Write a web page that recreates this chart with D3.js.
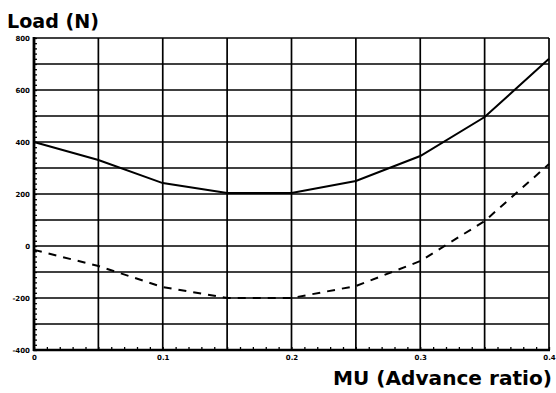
<!DOCTYPE html>
<html>
<head>
<meta charset="utf-8">
<script src="https://cdn.jsdelivr.net/npm/d3@7/dist/d3.min.js"></script>
<style>
  html, body { margin: 0; padding: 0; background: #fff; }
  svg { display: block; }
  .tick-label { font-family: "DejaVu Sans", sans-serif; font-weight: bold; font-size: 7px; fill: #000; }
  .title { font-family: "DejaVu Sans", sans-serif; font-weight: bold; fill: #000; }
</style>
</head>
<body>
<svg id="chart" width="556" height="393"></svg>
<script>
// Advance ratio samples and the two load curves (N)
const mu = [0, 0.05, 0.1, 0.15, 0.2, 0.25, 0.3, 0.35, 0.4];
const loadSolid = [400, 331, 242, 204, 204, 250, 346, 496, 720];
const loadDashed = [-15, -77, -158, -200, -200, -154, -58, 96, 315];

// Axis labelling
const xLabelValues = [0, 0.1, 0.2, 0.3, 0.4];
const xLabels = ["0", "0.1", "0.2", "0.3", "0.4"];
const yLabelValues = [-400, -200, 0, 200, 400, 600, 800];
const yLabels = ["-400", "-200", "0", "200", "400", "600", "800"];
const xGridValues = [0.05, 0.1, 0.15, 0.2, 0.25, 0.3, 0.35, 0.4];
const yGridValues = [-300, -200, -100, 0, 100, 200, 300, 400, 500, 600, 700, 800];

const svg = d3.select("#chart");
const plotL = 34, plotR = 549, plotT = 38, plotB = 350;

const x = d3.scaleLinear().domain([0, 0.4]).range([plotL, plotR]);
const y = d3.scaleLinear().domain([-400, 800]).range([plotB, plotT]);

// Grid
const grid = svg.append("g").attr("stroke", "#000").attr("stroke-width", 1.7);
grid.selectAll("line.v").data(xGridValues).join("line").attr("class", "v")
  .attr("x1", d => x(d)).attr("x2", d => x(d))
  .attr("y1", plotT).attr("y2", plotB);
grid.selectAll("line.h").data(yGridValues).join("line").attr("class", "h")
  .attr("x1", plotL).attr("x2", plotR)
  .attr("y1", d => y(d)).attr("y2", d => y(d));

// Minor ticks pointing into the plot
const xMinor = d3.axisBottom(x).tickValues(d3.range(0, 41).map(i => i / 100)).tickSize(-3).tickFormat("");
const gxm = svg.append("g").attr("transform", `translate(0,${plotB})`).call(xMinor);
gxm.select(".domain").remove();
gxm.selectAll("line").attr("stroke", "#000").attr("stroke-width", 1.3);

const yMinor = d3.axisLeft(y).tickValues(d3.range(-400, 801, 20)).tickSize(-3).tickFormat("");
const gym = svg.append("g").attr("transform", `translate(${plotL},0)`).call(yMinor);
gym.select(".domain").remove();
gym.selectAll("line").attr("stroke", "#000").attr("stroke-width", 1.3);

// Main axes (heavier lines)
svg.append("line").attr("x1", plotL).attr("x2", plotL).attr("y1", plotT - 1).attr("y2", plotB + 1)
  .attr("stroke", "#000").attr("stroke-width", 2.8);
svg.append("line").attr("x1", plotL - 1).attr("x2", plotR + 1).attr("y1", plotB).attr("y2", plotB)
  .attr("stroke", "#000").attr("stroke-width", 2.4);

// Tick labels
const xLab = d3.axisBottom(x).tickValues(xLabelValues).tickSize(0).tickPadding(5)
  .tickFormat((d, i) => xLabels[i]);
const gxl = svg.append("g").attr("transform", `translate(0,${plotB})`).call(xLab);
gxl.select(".domain").remove();
gxl.attr("font-family", null).attr("font-size", null);
gxl.selectAll("text").attr("class", "tick-label");

const yLab = d3.axisLeft(y).tickValues(yLabelValues).tickSize(0).tickPadding(4)
  .tickFormat((d, i) => yLabels[i]);
const gyl = svg.append("g").attr("transform", `translate(${plotL},0)`).call(yLab);
gyl.select(".domain").remove();
gyl.attr("font-family", null).attr("font-size", null);
gyl.selectAll("text").attr("class", "tick-label");

// Curves
const line = d3.line().x((d, i) => x(mu[i])).y(d => y(d)).curve(d3.curveLinear);
svg.append("path").datum(loadSolid).attr("d", line)
  .attr("fill", "none").attr("stroke", "#000").attr("stroke-width", 2);
svg.append("path").datum(loadDashed).attr("d", line)
  .attr("fill", "none").attr("stroke", "#000").attr("stroke-width", 2)
  .attr("stroke-dasharray", "8,7");

// Titles
svg.append("text").attr("class", "title").attr("x", 7).attr("y", 28)
  .attr("font-size", 20).attr("textLength", 92).attr("lengthAdjust", "spacingAndGlyphs")
  .text("Load (N)");
svg.append("text").attr("class", "title").attr("x", 333).attr("y", 385)
  .attr("font-size", 20).attr("textLength", 219).attr("lengthAdjust", "spacingAndGlyphs")
  .text("MU (Advance ratio)");
</script>
</body>
</html>
